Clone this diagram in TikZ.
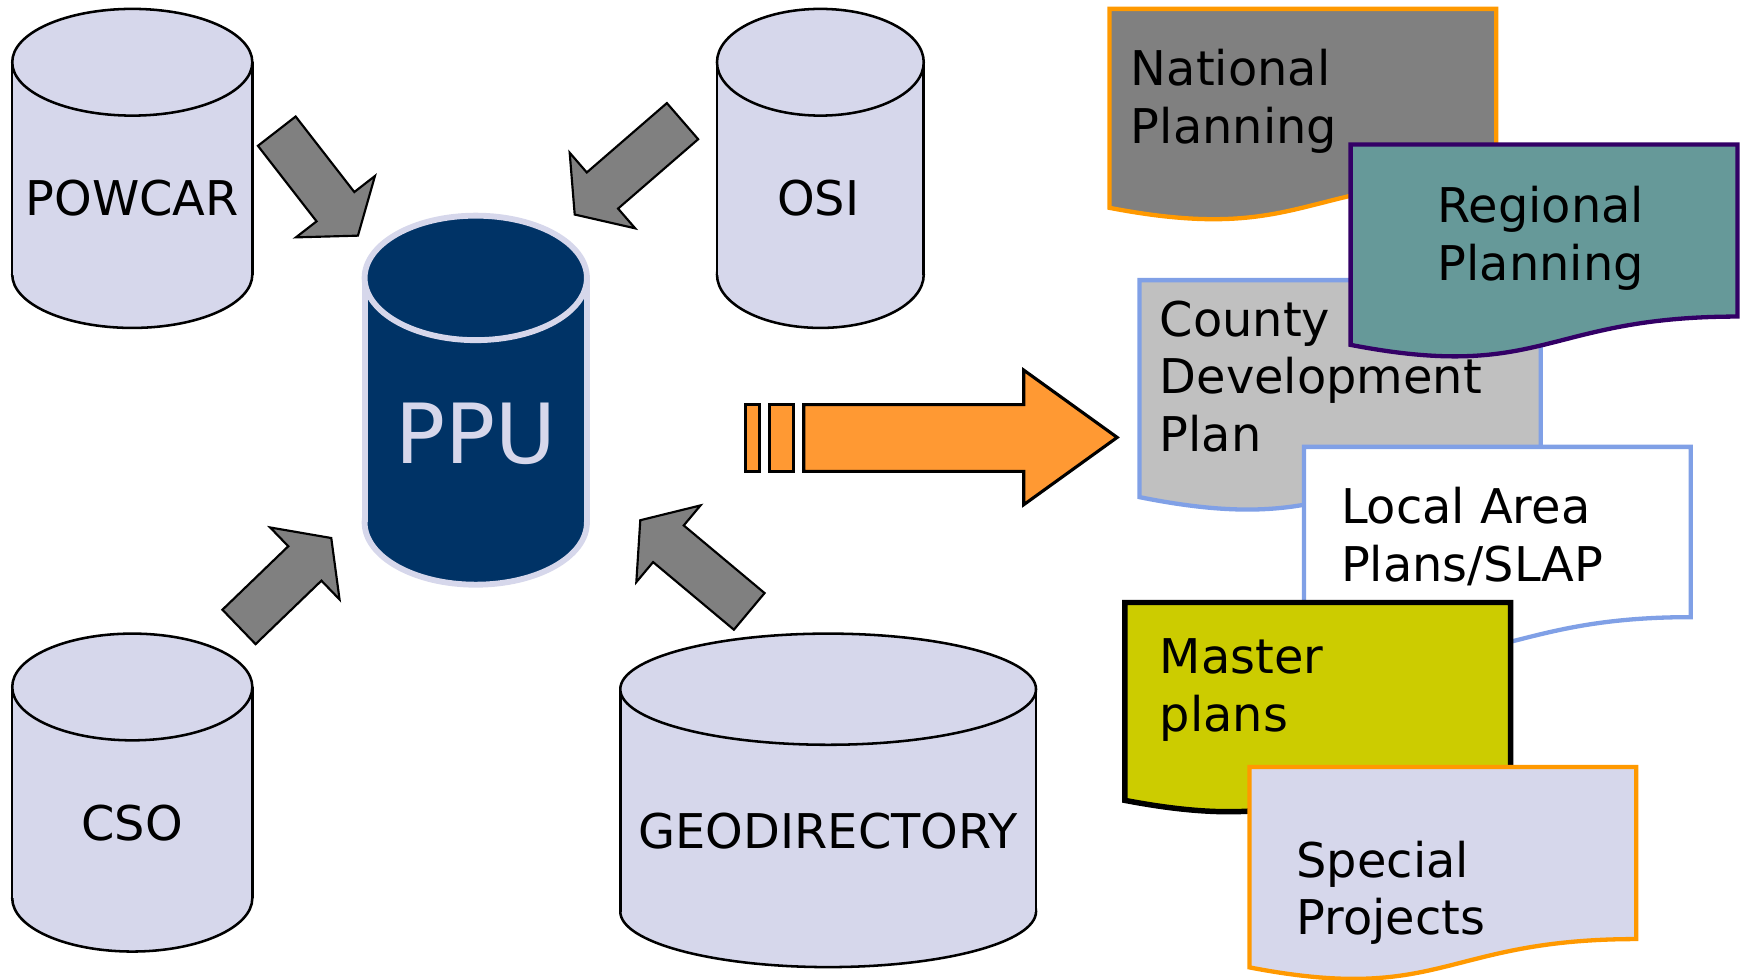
\documentclass[tikz,border=0pt]{standalone}
\usepackage{fontspec}
\setmainfont{DejaVu Sans}
\usetikzlibrary{calc}

\definecolor{lav}{RGB}{214,215,235}
\definecolor{ppublue}{RGB}{0,51,102}
\definecolor{arrgray}{RGB}{128,128,128}
\definecolor{orangefill}{RGB}{255,153,51}
\definecolor{orangeline}{RGB}{255,153,0}
\definecolor{regteal}{RGB}{102,153,153}
\definecolor{regpurple}{RGB}{51,0,102}
\definecolor{cdpblue}{RGB}{128,160,230}
\definecolor{cdpgray}{RGB}{192,192,192}
\definecolor{masteryellow}{RGB}{204,204,0}

\newcommand\labelfont{\fontsize{24.5}{29.6}\selectfont}
\newcommand\ppufont{\fontsize{42.5}{50}\selectfont}

% drum: style, cx, top centre y, bottom centre y, rx, ry
\newcommand\drum[6]{%
  \filldraw[#1] (#2,#4) ellipse [x radius=#5, y radius=#6];
  \fill[#1, draw=none] (#2-#5,#3) rectangle (#2+#5,#4);
  \draw[#1, fill=none] (#2-#5,#3) -- (#2-#5,#4) (#2+#5,#3) -- (#2+#5,#4);
  \filldraw[#1] (#2,#3) ellipse [x radius=#5, y radius=#6];
}
% plan document: style, x, y, w, h
\newcommand\plandoc[5]{%
  \filldraw[#1] (#2,#3) -- (#2+#4,#3) -- (#2+#4,#3+0.802*#5)
    .. controls (#2+0.5*#4,#3+0.802*#5) and (#2+0.5*#4,#3+1.108*#5) .. (#2,#3+0.934*#5) -- cycle;
}
% fat arrow: name, tail, tip
\newcommand\fatarrow[3]{%
  \coordinate (#1-t) at (#2);
  \coordinate (#1-h) at (#3);
  \coordinate (#1-n) at ($(#1-h)!0.66cm!(#1-t)$);
  \draw[grayarrow] ($(#1-t)!0.43cm!90:(#1-h)$) -- ($(#1-n)!0.43cm!90:(#1-h)$)
    -- ($(#1-n)!0.9cm!90:(#1-h)$) -- (#1-h) -- ($(#1-n)!0.9cm!-90:(#1-h)$)
    -- ($(#1-n)!0.43cm!-90:(#1-h)$) -- ($(#1-t)!0.43cm!-90:(#1-h)$) -- cycle;
}

\begin{document}
\begin{tikzpicture}[x=0.02cm, y=-0.02cm,
    drum/.style={fill=lav, draw=black, line width=1.3pt},
    ppudrum/.style={fill=ppublue, draw=lav, line width=3pt},
    grayarrow/.style={fill=arrgray, draw=black, line width=1.1pt},
    orangearrow/.style={fill=orangefill, draw=black, line width=1.6pt},
    dbname/.style={font=\labelfont, inner sep=0pt},
    doclabel/.style={font=\labelfont, inner sep=0pt, align=left, anchor=north west},
    plan/.style={line width=2.2pt}]
    \useasboundingbox (0,0) rectangle (1568,881);

    % data sources
    \drum{drum}{119}{56}{247}{108}{48}
    \node[dbname] (powcar) at (119,178) {POWCAR};
    \drum{drum}{738}{56}{247}{93}{48}
    \node[dbname] (osi) at (736,178) {OSI};
    \drum{drum}{119}{618}{808}{108}{48}
    \node[dbname] (cso) at (119,740) {CSO};
    \drum{drum}{745}{620}{820}{187}{50}
    \node[dbname] (geodir) at (745,748) {GEODIRECTORY};

    % PPU
    \drum{ppudrum}{428}{250}{470}{100}{56}
    \node[font=\ppufont, text=lav, inner sep=0pt] (ppu) at (428,390) {PPU};

    \fatarrow{a1}{249,118}{322,212}
    \fatarrow{a2}{614,109}{517,193}
    \fatarrow{a3}{215,564}{298,484}
    \fatarrow{a4}{674,550}{576,468}

    % output arrow
    \filldraw[orangearrow] (671,364) rectangle (683,424);
    \filldraw[orangearrow] (692,364) rectangle (714,424);
    \filldraw[orangearrow] (723,364) -- (921,364) -- (921,333) -- (1005,393.5)
        -- (921,454) -- (921,424) -- (723,424) -- cycle;

    % plans
    \plandoc{plan, fill=arrgray, draw=orangeline}{998}{8}{348}{191.6}
    \node[doclabel] (natplan) at (1017,44) {National\\Planning};
    \plandoc{plan, fill=cdpgray, draw=cdpblue}{1025}{252}{361}{209}
    \node[doclabel] (cdp) at (1043,270) {County\\Development\\Plan};
    \plandoc{plan, fill=regteal, draw=regpurple}{1215}{130}{348}{193}
    \node[doclabel, align=center, anchor=north] (regplan) at (1386,167) {Regional\\Planning};
    \plandoc{plan, fill=white, draw=cdpblue}{1173}{402}{348}{191}
    \node[doclabel] (lap) at (1206,438) {Local Area\\Plans/SLAP};
    \plandoc{plan, fill=masteryellow, draw=black, line width=2.8pt}{1012}{542}{347}{190.6}
    \node[doclabel] (master) at (1043,574) {Master\\plans};
    \plandoc{plan, fill=lav, draw=orangeline}{1124}{690}{348}{193}
    \node[doclabel] (special) at (1166,756) {Special\\Projects};
\end{tikzpicture}
\end{document}
